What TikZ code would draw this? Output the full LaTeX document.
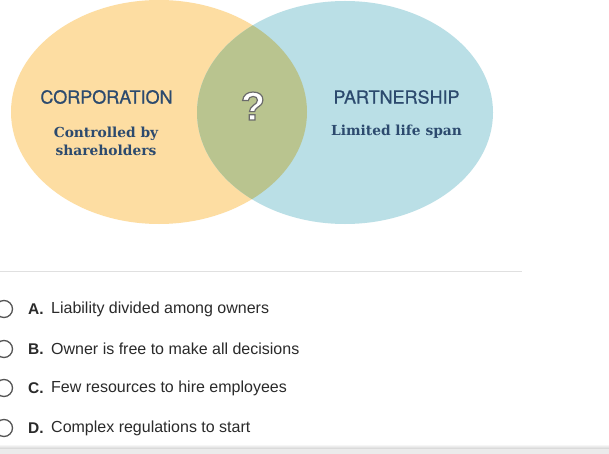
\documentclass[tikz,border=0pt]{standalone}
\usepackage{fontspec}
\setmainfont{Liberation Sans}
\newfontfamily\headfont[FakeBold=0.7]{TeX Gyre Heros}
\newfontfamily\slabfont{DejaVu Serif}
\usetikzlibrary{calc}
\definecolor{corp}{HTML}{FDDDA2}
\definecolor{part}{HTML}{BADFE6}
\definecolor{both}{HTML}{B9C48F}
\definecolor{navy}{HTML}{2C4A6E}
\definecolor{optgray}{HTML}{2A2A2A}
\tikzset{
  head/.style={text=navy, font=\headfont\fontsize{18}{20}\selectfont},
  sub/.style={text=navy, font=\slabfont\bfseries\fontsize{13.8}{18}\selectfont, align=center},
  radio/.style={draw=optgray!80, line width=1.3pt, circle, minimum size=17pt, inner sep=0pt},
  letter/.style={anchor=west, font=\bfseries\fontsize{15.5}{18}\selectfont, text=optgray, inner sep=0pt},
  opt/.style={anchor=west, font=\fontsize{16}{18}\selectfont, text=optgray, inner sep=0pt},
  qmark/.style={text=white, font=\bfseries\fontsize{40}{44}\selectfont}
}
\newcommand{\outlinedq}{\special{pdf:literal direct 0.42 0.42 0.42 RG 1.2 w 2 Tr}?\special{pdf:literal direct 0 Tr}}
\begin{document}
\begin{tikzpicture}[x=1pt,y=-1pt]
\useasboundingbox (0,0) rectangle (609,454);
\fill[white] (0,0) rectangle (609,454);
% ellipses
\fill[corp] (159,112) ellipse [x radius=148, y radius=112];
\fill[part] (345,112.5) ellipse [x radius=148, y radius=111.5];
\begin{scope}
  \clip (159,112) ellipse [x radius=148, y radius=112];
  \fill[both] (345,112.5) ellipse [x radius=148, y radius=111.5];
\end{scope}
% labels
\node[head] (corpT) at (106.5,97) {CORPORATION};
\node[sub] (corpS) at (106,141.5) {Controlled by\\shareholders};
\node[head] (partT) at (396.5,97) {PARTNERSHIP};
\node[sub] (partS) at (396.5,132) {Limited life span};
% question mark with outline
\node[qmark] (qm) at (253,106) {\outlinedq};
% separator
\draw[black!12, line width=1pt] (0,271) -- (522,271);
% options
\foreach \y/\l/\t [count=\i] in {309/A./Liability divided among owners,
                       349/B./Owner is free to make all decisions,
                       388/C./Few resources to hire employees,
                       428/D./Complex regulations to start}{
  \node[radio] (r\i) at (4,\y) {};
  \node[letter] (l\i) at (28,\y) {\l};
  \node[opt] (o\i) at (51,\y) {\t};
}
% bottom shadow
\shade[top color=white, bottom color=black!18] (0,444) rectangle (609,449);
\fill[black!8] (0,449) rectangle (609,454);
\end{tikzpicture}
\end{document}
